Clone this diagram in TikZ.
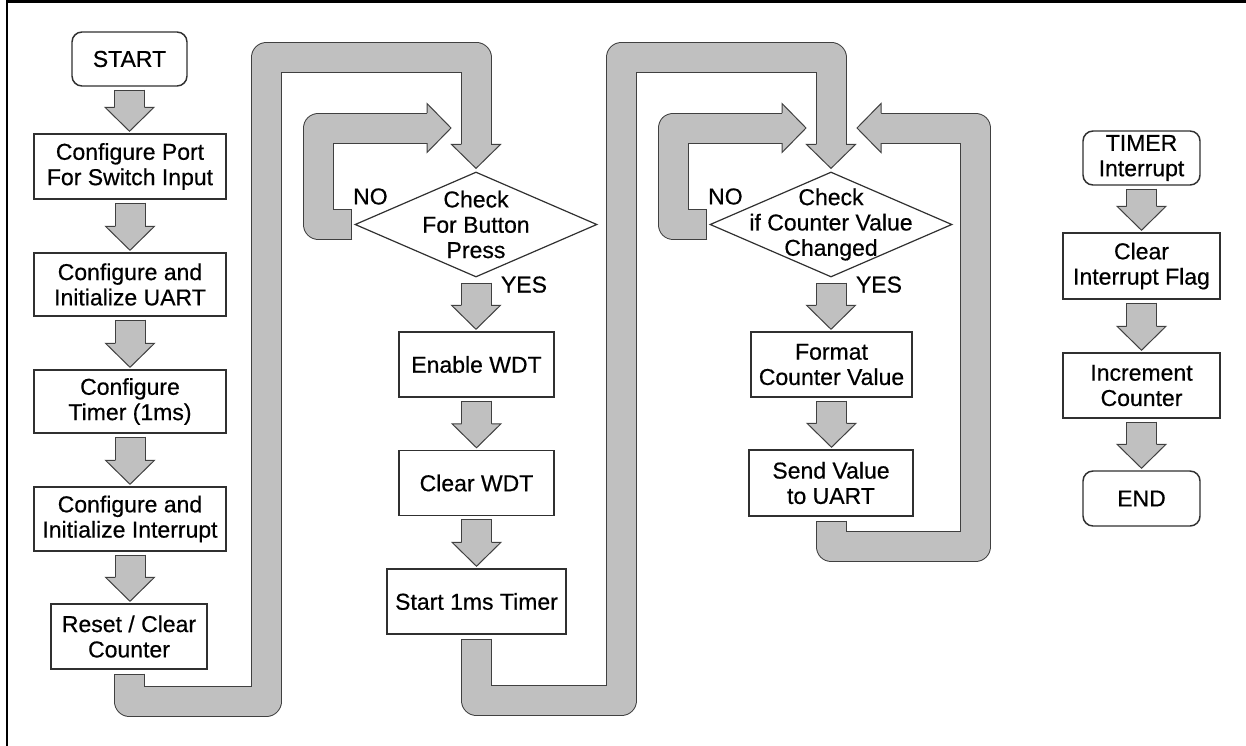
\documentclass[tikz,border=0pt]{standalone}
\usepackage{fontspec}
\setmainfont{Liberation Sans}[FakeBold=0.5]
\usetikzlibrary{shapes.geometric,calc}

% one unit of the drawing = 0.75pt
\def\px{*0.75pt}

\definecolor{bandfill}{HTML}{C0C0C0}
\definecolor{bandline}{HTML}{404040}
\definecolor{boxline}{HTML}{303030}

\tikzset{
  txt/.style={font=\fontsize{17.25}{19}\selectfont, align=center, text=black},
  stepbox/.style={txt, draw=boxline, line width=1.1pt, fill=white, inner sep=0pt},
  termbox/.style={stepbox, rounded corners=10\px},
  decision/.style={diamond, draw=boxline, line width=0.9pt, fill=white, inner sep=0pt,
    minimum width=242\px, minimum height=105\px},
  band edge/.style={draw=bandline, line width=31\px, line join=round, shorten >=-1\px},
  band core/.style={draw=bandfill, line width=29\px, line join=round, shorten >=-1\px, shorten <=1\px},
  tag/.style={txt},
  bandhead/.pic={
    \filldraw[fill=bandfill, draw=bandline, line width=1\px, line join=miter]
      (0,-15) -- (0,-24.5) -- (24,0) -- (0,24.5) -- (0,15);
  }
}

% a wide grey band along a path
\newcommand\band[1]{\path[band edge] #1; \path[band core] #1;}
% short block arrow from one node down to the next
\newcommand\flow[3][3]{%
  \band{($(#2.south)+(0,#1)$) -- ($(#2.south |- #3.north)+(0,-26)$)}
  \pic[rotate=-90] at ($(#2.south |- #3.north)+(0,-26)$) {bandhead};}

\begin{document}
\begin{tikzpicture}[x=0.75pt, y=-0.75pt]
\useasboundingbox (0,0) rectangle (1246,746);
\fill[white] (0,0) rectangle (1246,746);

% frame
\draw[line width=2.5\px, line join=miter] (7,746) -- (7,1.25) -- (1246,1.25);

% initialisation column
\node[termbox, minimum width=115\px, minimum height=54\px] (start) at (129.5,59) {START};
\node[stepbox, minimum width=192\px, minimum height=65\px] (cfgport) at (130,166.5) {Configure Port\\For Switch Input};
\node[stepbox, minimum width=192\px, minimum height=63\px] (cfguart) at (130,284.5) {Configure and\\Initialize UART};
\node[stepbox, minimum width=192\px, minimum height=63\px] (cfgtimer) at (130,401.5) {Configure\\Timer (1ms)};
\node[stepbox, minimum width=192\px, minimum height=64\px] (cfgint) at (130,519) {Configure and\\Initialize Interrupt};
\node[stepbox, minimum width=156\px, minimum height=65\px] (reset) at (129,636.5) {Reset / Clear\\Counter};

% button column
\node[decision, label={[txt]center:Check\\For Button\\Press}] (d1) at (476,224.5) {};
\node[stepbox, minimum width=155\px, minimum height=65\px] (enwdt) at (476.5,364.5) {Enable WDT};
\node[stepbox, minimum width=155\px, minimum height=65\px] (clrwdt) at (476.5,483) {Clear WDT};
\node[stepbox, minimum width=179\px, minimum height=65\px] (start1ms) at (476.5,601.5) {Start 1ms Timer};

% counter column
\node[decision, label={[txt]center:Check\\if Counter Value\\Changed}] (d2) at (831,224.5) {};
\node[stepbox, minimum width=161\px, minimum height=65\px] (fmt) at (831.5,364.5) {Format\\Counter Value};
\node[stepbox, minimum width=164\px, minimum height=66\px] (send) at (831,483) {Send Value\\to UART};

% interrupt routine
\node[termbox, minimum width=117\px, minimum height=54\px] (timer) at (1141.5,158) {TIMER\\Interrupt};
\node[stepbox, minimum width=157\px, minimum height=66\px] (clrint) at (1141.5,266) {Clear\\Interrupt Flag};
\node[stepbox, minimum width=157\px, minimum height=65\px] (incr) at (1141.5,385.5) {Increment\\Counter};
\node[termbox, minimum width=117\px, minimum height=55\px] (endn) at (1141.5,498.5) {END};

% branch labels
\node[tag] (no1) at ($(d1.west)+(16,-28)$) {NO};
\node[tag] (yes1) at ($(d1.south)+(48,7)$) {YES};
\node[tag] (no2) at ($(d2.west)+(16,-28)$) {NO};
\node[tag] (yes2) at ($(d2.south)+(48,7)$) {YES};

% bends of the long links
\coordinate (a1) at (266.5,701);
\coordinate (a2) at (266.5,57.5);
\coordinate (b1) at (621.5,700.5);
\coordinate (b2) at (621.5,57.5);
\coordinate (n1) at (318.5,128);
\coordinate (nA) at (427,128);
\coordinate (n2) at (673,128);
\coordinate (nB) at (782,128);
\coordinate (r1) at (975.5,546.5);
\coordinate (r2) at (975.5,128);
\coordinate (rH) at (881,128);

% short arrows
\flow{start}{cfgport}
\flow{cfgport}{cfguart}
\flow{cfguart}{cfgtimer}
\flow{cfgtimer}{cfgint}
\flow{cfgint}{reset}
\flow[5]{d1}{enwdt}
\flow{enwdt}{clrwdt}
\flow{clrwdt}{start1ms}
\flow[5]{d2}{fmt}
\flow{fmt}{send}
\flow{timer}{clrint}
\flow{clrint}{incr}
\flow{incr}{endn}

% reset -> button check
\band{($(reset.south)+(0,4)$) |- (a1) -- (a2) -| ($(d1.north)+(0,-27)$)}
\pic[rotate=-90] at ($(d1.north)+(0,-27)$) {bandhead};

% button not pressed
\band{($(d1.west)+(-2,0)$) -| (n1) -- (nA)}
\pic at (nA) {bandhead};

% timer started -> counter check
\band{($(start1ms.south)+(0,4)$) |- (b1) -- (b2) -| ($(d2.north)+(0,-27)$)}
\pic[rotate=-90] at ($(d2.north)+(0,-27)$) {bandhead};

% counter unchanged
\band{($(d2.west)+(-2,0)$) -| (n2) -- (nB)}
\pic at (nB) {bandhead};

% value sent -> counter check
\band{($(send.south)+(0,4)$) |- (r1) -- (r2) -- (rH)}
\pic[rotate=180] at (rH) {bandhead};
\end{tikzpicture}
\end{document}
